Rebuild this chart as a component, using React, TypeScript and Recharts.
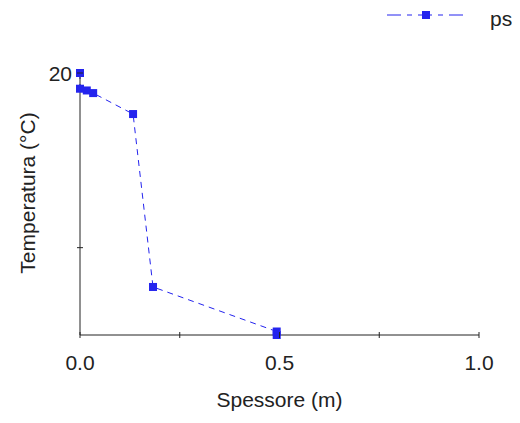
import React from 'react';
import { LineChart, Line, XAxis, YAxis } from 'recharts';

const SERIES_NAME = 'ps';
const SPESSORE = [0, 0, 0.017, 0.033, 0.133, 0.183, 0.493, 0.493];
const TEMPERATURA = [20, 19.1, 19.0, 18.85, 17.65, 7.75, 5.2, 5.0];
const X_TICKS = [0, 0.25, 0.5, 0.75, 1];
const X_LABELED = [0, 0.5, 1];
const Y_TICKS = [10, 20];
const Y_LABELED = [20];

const data = SPESSORE.map((x, i) => ({ x, t: TEMPERATURA[i] }));

const BLUE = '#2424ee';
const AXIS = '#222';
const FONT = '"Liberation Sans", Arial, sans-serif';
const FS = 21;

const XTick = (props: any) => {
  const { x, y, payload } = props;
  const v = payload.value;
  return (
    <g>
      <line x1={x} x2={x} y1={y - 3} y2={y + 3} stroke={AXIS} />
      {X_LABELED.includes(v) && (
        <text x={x} y={y + 35} textAnchor="middle" fill={AXIS} fontSize={FS} fontFamily={FONT}>
          {v.toFixed(1)}
        </text>
      )}
    </g>
  );
};

const YTick = (props: any) => {
  const { x, y, payload } = props;
  const v = payload.value;
  return (
    <g>
      <line x1={x - 3} x2={x + 3} y1={y} y2={y} stroke={AXIS} />
      {Y_LABELED.includes(v) && (
        <text x={x - 8} y={y + 8} textAnchor="end" fill={AXIS} fontSize={FS} fontFamily={FONT}>
          {v}
        </text>
      )}
    </g>
  );
};

const SquareDot = (props: any) => {
  const { cx, cy, index } = props;
  return <rect key={`dot-${index}`} x={cx - 4} y={cy - 4} width={8} height={8} fill={BLUE} />;
};

// legend drawn on top of the chart, top right
const LegendBox = () => (
  <svg width={512} height={30} style={{ position: 'absolute', top: 0, left: 0 }}>
    <line x1={379} x2={455} y1={7} y2={7} stroke={BLUE} strokeDasharray="14 6 5 6" />
    <rect x={414} y={3} width={8} height={8} fill={BLUE} />
    <text x={482} y={18} fill={AXIS} fontSize={FS} fontFamily={FONT}>
      {SERIES_NAME}
    </text>
  </svg>
);

export default function App() {
  return (
    <div style={{ position: 'relative', width: 512, height: 415 }}>
      <LineChart
        width={512}
        height={415}
        data={data}
        margin={{ top: 65, right: 41, bottom: 38, left: 12 }}
      >
        <XAxis
          dataKey="x"
          type="number"
          domain={[0, 1]}
          ticks={X_TICKS}
          tickSize={0}
          tickMargin={0}
          tickLine={false}
          stroke={AXIS}
          height={50}
          tick={<XTick />}
          interval={0}
          label={{
            content: (p: any) => {
              const vb = p.viewBox;
              return (
                <text
                  x={vb.x + vb.width / 2}
                  y={vb.y + 72}
                  textAnchor="middle"
                  fill={AXIS}
                  fontSize={FS}
                  fontFamily={FONT}
                >
                  Spessore (m)
                </text>
              );
            },
          }}
        />
        <YAxis
          type="number"
          domain={[5, 20]}
          ticks={Y_TICKS}
          tickSize={0}
          tickMargin={0}
          tickLine={false}
          stroke={AXIS}
          width={60}
          tick={<YTick />}
          interval={0}
          label={{
            content: (p: any) => {
              const vb = p.viewBox;
              const cx = vb.x + vb.width - 53;
              const cy = vb.y + vb.height / 2 - 11;
              return (
                <text
                  x={cx}
                  y={cy}
                  transform={`rotate(-90, ${cx}, ${cy})`}
                  textAnchor="middle"
                  dominantBaseline="central"
                  fill={AXIS}
                  fontSize={FS}
                  fontFamily={FONT}
                >
                  Temperatura (°C)
                </text>
              );
            },
          }}
        />
        <Line
          dataKey="t"
          name={SERIES_NAME}
          stroke={BLUE}
          strokeWidth={1}
          strokeDasharray="6 5"
          type="linear"
          dot={SquareDot}
          activeDot={false}
          isAnimationActive={false}
        />
      </LineChart>
      <LegendBox />
    </div>
  );
}
